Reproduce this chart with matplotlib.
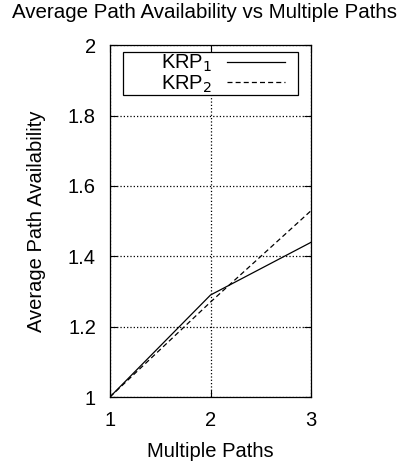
import numpy as np
import matplotlib.pyplot as plt
from matplotlib.patches import Rectangle

plt.rcParams['font.family'] = ['Liberation Sans', 'DejaVu Sans']

paths = [1, 2, 3]
krp1 = [1.0, 1.29, 1.44]
krp2 = [1.0, 1.27, 1.53]

fig = plt.figure(figsize=(4.1, 4.66), dpi=100)
ax = fig.add_axes([0.268, 0.148, 0.491, 0.755])

ax.plot(paths, krp1, '-k', lw=0.9, label='KRP$_1$')
ax.plot(paths, krp2, '--k', lw=0.9, dashes=(4, 2.5), label='KRP$_2$')

ax.set_xlim(1, 3)
ax.set_ylim(1, 2)
ax.set_xticks([1, 2, 3])
ax.set_yticks([1, 1.2, 1.4, 1.6, 1.8, 2])
ax.set_yticklabels(['1', '1.2', '1.4', '1.6', '1.8', '2'])
ax.tick_params(direction='in', top=True, right=True, labelsize=14.5, length=5, pad=10)
ax.grid(True, linestyle=':', color='black', lw=0.9)
for s in ax.spines.values():
    s.set_linewidth(0.9)

ax.set_xlabel('Multiple Paths', fontsize=14.5, labelpad=9)
ax.set_ylabel('Average Path Availability', fontsize=14.5, labelpad=16)
fig.text(0.5, 1 - 12 / 466, 'Average Path Availability vs Multiple Paths',
         fontsize=14.8, ha='center', va='center')

# legend box (gnuplot style, wider than its content)
ax.add_patch(Rectangle((0.065, 0.858), 0.87, 0.122, transform=ax.transAxes,
                       fill=True, facecolor='white', edgecolor='black', lw=0.9, zorder=4))
leg = ax.legend(loc='upper right', bbox_to_anchor=(0.87, 0.978), markerfirst=False,
                fontsize=14.5, frameon=False, handlelength=2.9, handletextpad=0.7,
                borderaxespad=0, labelspacing=-0.05, borderpad=0)
leg.set_zorder(5)

fig.savefig('out.png', dpi=100)
